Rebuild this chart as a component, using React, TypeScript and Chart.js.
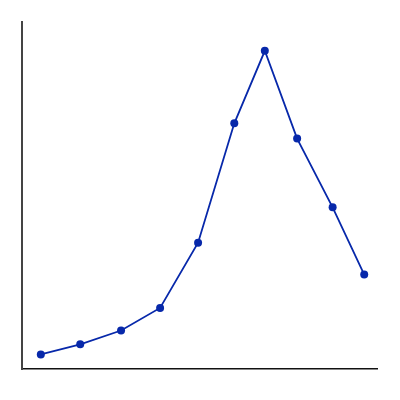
import React, { useEffect, useRef } from 'react';
import Chart from 'chart.js/auto';

// x positions (0-100) and y values (0-100)
const xValues = [5.3, 16.4, 27.9, 38.9, 49.6, 59.8, 68.4, 77.5, 87.5, 96.4];
const yValues = [4.2, 7.1, 11.1, 17.6, 36.4, 70.8, 91.7, 66.4, 46.6, 27.2];

const LINE_COLOR = '#0728aa';

const App: React.FC = () => {
    const chartRef = useRef<HTMLCanvasElement>(null);
    const chartInstance = useRef<Chart | null>(null);

    useEffect(() => {
        if (!chartRef.current) return;
        document.body.style.margin = '0';

        if (chartInstance.current) {
            chartInstance.current.destroy();
        }

        chartInstance.current = new Chart(chartRef.current, {
            type: 'line',
            data: {
                datasets: [{
                    data: xValues.map((x, i) => ({ x, y: yValues[i] })),
                    borderColor: LINE_COLOR,
                    backgroundColor: LINE_COLOR,
                    borderWidth: 1.8,
                    pointRadius: 4,
                    pointBackgroundColor: LINE_COLOR,
                    pointBorderWidth: 0,
                    tension: 0,
                    clip: false
                }]
            },
            options: {
                responsive: false,
                animation: false,
                layout: {
                    padding: { left: 22, top: 22, right: 23, bottom: 31 }
                },
                plugins: {
                    legend: { display: false },
                    tooltip: { enabled: false }
                },
                scales: {
                    x: {
                        type: 'linear',
                        min: 0,
                        max: 100,
                        ticks: { display: false },
                        grid: { display: false, drawTicks: false },
                        border: { display: true, color: '#111', width: 1.5 }
                    },
                    y: {
                        min: 0,
                        max: 100,
                        ticks: { display: false },
                        grid: { display: false, drawTicks: false },
                        border: { display: true, color: '#444', width: 2 }
                    }
                }
            }
        });

        return () => {
            if (chartInstance.current) {
                chartInstance.current.destroy();
                chartInstance.current = null;
            }
        };
    }, []);

    return (
        <div style={{ width: 400, height: 400, background: '#fff' }}>
            <canvas ref={chartRef} width={400} height={400}></canvas>
        </div>
    );
};

export default App;
